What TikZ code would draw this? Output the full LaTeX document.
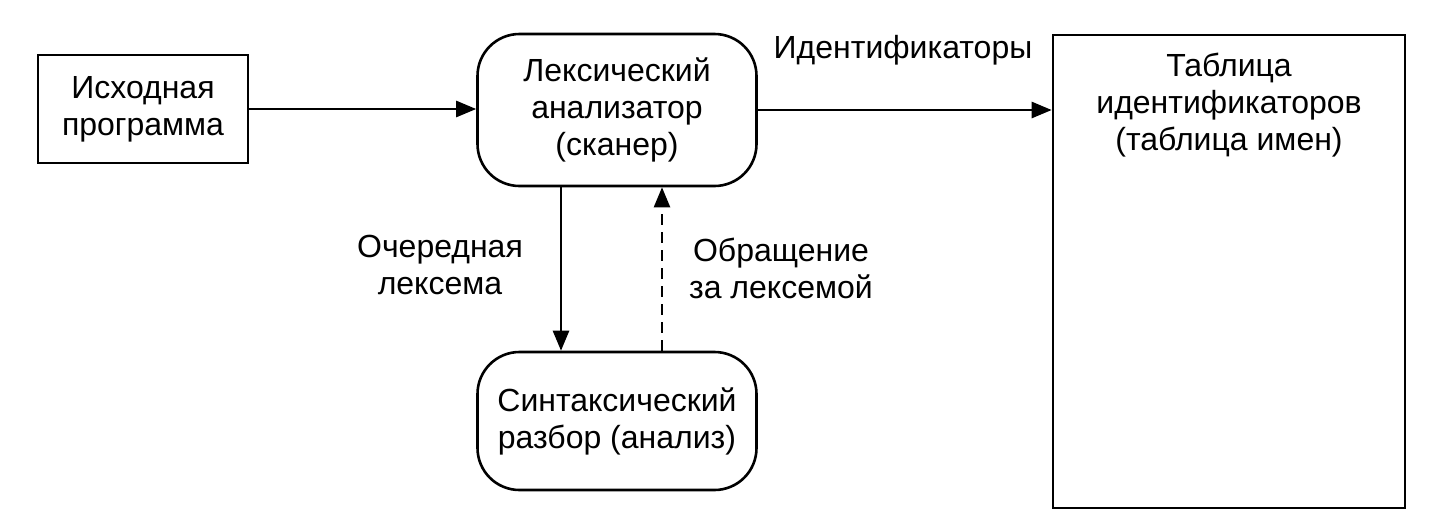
\documentclass[tikz,border=0pt]{standalone}
\usepackage{fontspec}
\setmainfont{Liberation Sans}
\usetikzlibrary{arrows.meta}
\begin{document}
\begin{tikzpicture}[x=1pt,y=-1pt,
  every node/.style={font=\fontsize{32}{37}\selectfont, align=center, inner sep=0pt},
  rbox/.style={draw, line width=2.6pt, rounded corners=42pt},
  arr/.style={line width=2.6pt, -{Triangle[length=20pt,width=16pt]}},
  dsh/.style={line width=2.4pt, dashed, dash pattern=on 11pt off 7pt, -{Triangle[length=20pt,width=16pt]}}
]
\useasboundingbox (0,0) rectangle (1448,512);
\node[draw, line width=2.6pt, minimum width=210pt, minimum height=108pt] (src) at (143,109) {Исходная\\программа};
\node[rbox, minimum width=279pt, minimum height=152pt] (lex) at (617,110) {Лексический\\анализатор\\(сканер)};
\node[rbox, minimum width=279pt, minimum height=138pt] (syn) at (617,421) {Синтаксический\\разбор (анализ)};
\node[draw, line width=2.6pt, minimum width=352pt, minimum height=473pt] (tbl) at (1229,271.5) {};
\node (tbltxt) at (1229,105) {Таблица\\идентификаторов\\(таблица имен)};
\node (idl) at (903,50) {Идентификаторы};
\node (nxt) at (440,265) {Очередная\\лексема};
\node (req) at (781,268) {Обращение\\за лексемой};
\draw[arr] (src.east) -- (src.east -| lex.west);
\draw[arr] (lex.east) -- (lex.east -| tbl.west);
\draw[arr] ([xshift=-56pt]lex.south) -- ([xshift=-56pt]syn.north);
\draw[dsh] ([xshift=45pt]syn.north) -- ([xshift=45pt]lex.south);
\end{tikzpicture}
\end{document}
